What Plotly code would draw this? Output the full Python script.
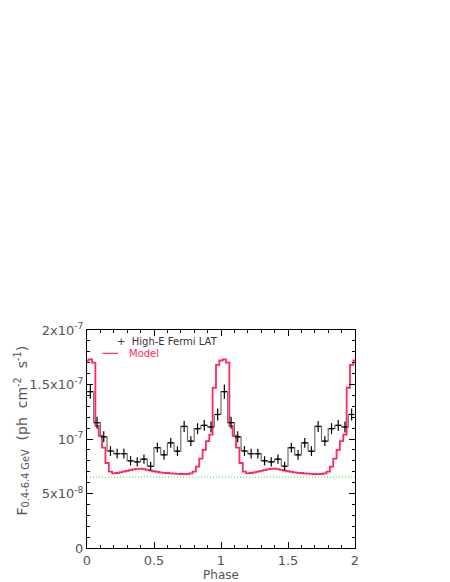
import plotly.graph_objects as go

# one pulse period of the model (flux in 1e-7 ph cm^-2 s^-1), sampled every 0.025 in phase
model_step = 0.025
model_period = [
    1.72, 1.73, 1.70, 1.12, 1.03, 0.92, 0.78, 0.70,
    0.685, 0.688, 0.694, 0.700, 0.708, 0.715, 0.721, 0.726,
    0.728, 0.724, 0.716, 0.710, 0.704, 0.698, 0.694, 0.690,
    0.688, 0.685, 0.682, 0.680, 0.679, 0.678, 0.679, 0.685,
    0.700, 0.746, 0.820, 0.900, 0.980, 1.040, 1.470, 1.680,
]

# Fermi LAT high-energy light curve, 20 bins per period (flux in 1e-7)
data_bin = 0.05
data_period = [
    1.435, 1.150, 1.020, 0.890, 0.865, 0.865, 0.800, 0.790, 0.815, 0.750,
    0.920, 0.855, 0.965, 0.888, 1.115, 0.980, 1.095, 1.125, 1.110, 1.225,
]
data_err_period = [
    0.065, 0.055, 0.050, 0.045, 0.045, 0.045, 0.042, 0.042, 0.042, 0.042,
    0.045, 0.045, 0.045, 0.045, 0.050, 0.045, 0.050, 0.050, 0.050, 0.055,
]

background_level = 0.65  # 1e-7
n_periods = 2

x_tickvals = [0, 0.5, 1, 1.5, 2]
x_ticktext = ['0', '0.5', '1', '1.5', '2']
y_tickvals = [0, 0.5e-7, 1e-7, 1.5e-7, 2e-7]
y_ticktext = ['0', '5x10<sup>-8</sup>', '10<sup>-7</sup>',
              '1.5x10<sup>-7</sup>', '2x10<sup>-7</sup>']

# two periods are shown, as usual for phase plots
model_y = [v * 1e-7 for v in model_period * n_periods + model_period[:1]]
model_x = [i * model_step for i in range(len(model_y))]

data_y = [v * 1e-7 for v in data_period * n_periods]
data_err = [v * 1e-7 for v in data_err_period * n_periods]
data_x = [data_bin / 2 + i * data_bin for i in range(len(data_y))]

RED = '#ff2a5c'
GREY = '#555555'
FONT = 'DejaVu Sans, sans-serif'

fig = go.Figure()

fig.add_trace(go.Scatter(
    x=[0, n_periods], y=[background_level * 1e-7] * 2, mode='lines',
    line=dict(color='#44dd44', width=1, dash='1px,2px'), showlegend=False))

fig.add_trace(go.Scatter(
    x=model_x, y=model_y, mode='lines', line_shape='hvh',
    line=dict(color=RED, width=1.8), showlegend=False))

# histogram outline of the data
fig.add_trace(go.Scatter(
    x=[0] + data_x + [n_periods], y=data_y[:1] + data_y + data_y[-1:],
    mode='lines', line_shape='hvh',
    line=dict(color='#707070', width=1.2), showlegend=False))

fig.add_trace(go.Scatter(
    x=data_x, y=data_y, mode='markers',
    marker=dict(size=1, color='black'),
    error_y=dict(type='data', array=data_err, color='black',
                 thickness=1.2, width=0),
    error_x=dict(type='constant', value=data_bin * 0.4, color='black',
                 thickness=1.2, width=0),
    showlegend=False))

axis_common = dict(
    showline=True, linecolor='black', linewidth=1.2, mirror='ticks',
    ticks='inside', ticklen=6, tickcolor='black', tickwidth=1,
    showgrid=False, zeroline=False, automargin=False,
    tickfont=dict(family=FONT, size=13, color=GREY),
)

fig.update_xaxes(
    range=[0, n_periods], tickmode='array',
    tickvals=x_tickvals, ticktext=x_ticktext,
    minor=dict(tickmode='linear', tick0=0, dtick=0.1, ticks='inside',
               ticklen=3, tickcolor='black'),
    title=dict(text='Phase', font=dict(family=FONT, size=12, color=GREY),
               standoff=0),
    **axis_common)

fig.update_yaxes(
    range=[0, 2e-7], tickmode='array',
    tickvals=y_tickvals, ticktext=y_ticktext,
    minor=dict(tickmode='linear', tick0=0, dtick=1e-8, ticks='inside',
               ticklen=3, tickcolor='black'),
    **axis_common)

# the page adds an 8px body margin, so the figure margins are 8px smaller
fig.update_layout(
    width=450, height=582,
    margin=dict(l=79, r=103, t=322, b=42, autoexpand=False),
    plot_bgcolor='white', paper_bgcolor='white',
    showlegend=False,
    annotations=[
        dict(text='F<sub>0.4-6.4 GeV</sub>  (ph  cm<sup>-2</sup>  s<sup>-1</sup>)',
             xref='paper', yref='paper', x=-0.244, y=0.537,
             xanchor='center', yanchor='middle', textangle=-90,
             showarrow=False,
             font=dict(family=FONT, size=14, color=GREY)),
        dict(text='+  High-E Fermi LAT', xref='paper', yref='paper',
             x=0.104, y=0.946, xanchor='left', yanchor='middle',
             showarrow=False, font=dict(family=FONT, size=10, color='#333333')),
        dict(text='Model', xref='paper', yref='paper',
             x=0.148, y=0.892, xanchor='left', yanchor='middle',
             showarrow=False, font=dict(family=FONT, size=10, color=RED)),
    ],
    shapes=[
        dict(type='line', xref='paper', yref='paper',
             x0=0.058, x1=0.116, y0=0.893, y1=0.893,
             line=dict(color=RED, width=1.2)),
    ],
)

fig.write_html('out.html')
